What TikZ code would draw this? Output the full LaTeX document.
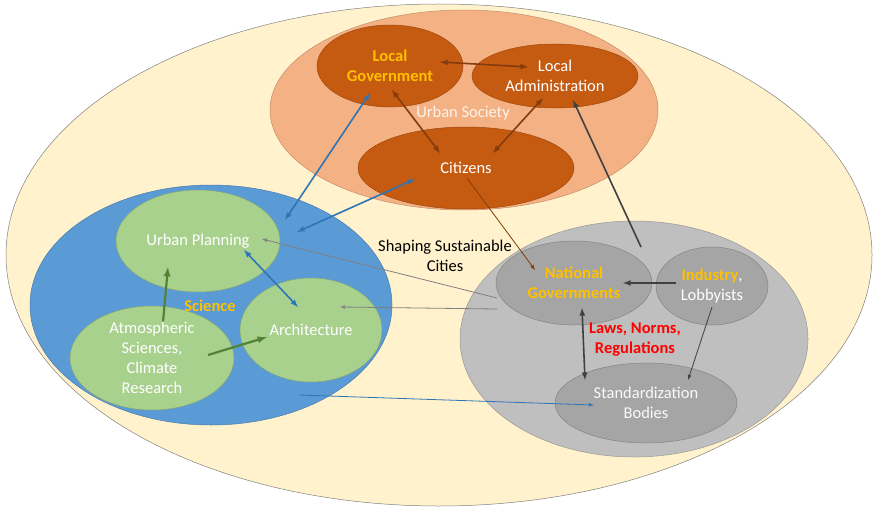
\documentclass[tikz,border=0pt]{standalone}
\usepackage{fontspec}
\setmainfont{Carlito}
\usepackage{xcolor}
\usetikzlibrary{shapes.geometric,calc,arrows}

\definecolor{cream}{HTML}{FFF2CC}
\definecolor{salmon}{HTML}{F4B183}
\definecolor{rust}{HTML}{C55A11}
\definecolor{skyblue}{HTML}{5B9BD5}
\definecolor{leaf}{HTML}{A9D18E}
\definecolor{silver}{HTML}{BFBFBF}
\definecolor{steel}{HTML}{A5A5A5}
\definecolor{gold}{HTML}{FFC000}
\definecolor{darkrust}{HTML}{843C0C}
\definecolor{deepblue}{HTML}{2E75B6}
\definecolor{moss}{HTML}{548235}
\definecolor{slate}{HTML}{404040}

\begin{document}
\begin{tikzpicture}[
    x=1pt, y=-1pt,
    zone/.style={ellipse, inner sep=0pt, fill=#1, draw=#1!80!black, line width=0.5pt},
    lbl/.style={align=center, text=white, font=\fontsize{16.5}{20}\selectfont},
    key/.style={lbl, text=gold, font=\fontsize{16.5}{20}\selectfont\bfseries},
    link/.style={draw=#1, line width=1.6pt},
    thin link/.style={draw=#1, line width=0.8pt},
    >=latex
]
  \useasboundingbox (0,0) rectangle (874,508);

  % outer frame
  \node[zone=cream, draw=gray, minimum width=866pt, minimum height=502pt] (world) at (439,255) {};

  % urban society
  \node[zone=salmon, minimum width=388pt, minimum height=200pt] (us) at (464,110) {};
  \node[zone=rust, minimum width=146pt, minimum height=82pt] (lg) at (390,66) {};
  \node[zone=rust, minimum width=166pt, minimum height=64pt] (la) at (555,76) {};
  \node[zone=rust, minimum width=216pt, minimum height=82pt] (cit) at (466,168) {};

  % science
  \node[zone=skyblue, minimum width=362pt, minimum height=240pt] (sci) at (211,305) {};
  \node[zone=leaf, minimum width=164pt, minimum height=102pt] (up) at (198,241) {};
  \node[zone=leaf, minimum width=164pt, minimum height=104pt] (atm) at (152,358) {};
  \node[zone=leaf, minimum width=142pt, minimum height=104pt] (arch) at (311,330) {};

  % politics and industry
  \node[zone=silver, minimum width=348pt, minimum height=236pt] (pol) at (634,339) {};
  \node[zone=steel, minimum width=156pt, minimum height=84pt] (ng) at (574,283) {};
  \node[zone=steel, minimum width=112pt, minimum height=78pt] (ind) at (712,286) {};
  \node[zone=steel, minimum width=182pt, minimum height=80pt] (sb) at (646,403) {};

  % links inside urban society
  \draw[<->, link=darkrust] ($(lg)+(50,-4)$) -- ($(la)+(-27,-9)$);
  \draw[<->, link=darkrust] ($(lg)+(2,24)$) -- ($(cit)+(-26,-15)$);
  \draw[<->, link=darkrust] ($(la)+(-12,22)$) -- ($(cit)+(27,-15)$);

  % links between urban society and science
  \draw[<->, link=deepblue] ($(lg)+(-20,27)$) -- ($(sci)+(74,-85)$);
  \draw[<->, link=deepblue] ($(cit)+(-51,11)$) -- ($(sci)+(86,-73)$);
  \draw[->, thin link=darkrust] ($(cit)+(1,10)$) -- ($(ng)+(-39,-13)$);
  \draw[->, link=slate] ($(pol)+(7,-92)$) -- ($(la)+(18,24)$);

  % links from politics to science
  \draw[->, thin link=gray] ($(pol)+(-137,-41)$) -- ($(up)+(64,-2)$);
  \draw[->, thin link=gray] ($(pol)+(-137,-30)$) -- ($(arch)+(29,-23)$);
  \draw[->, thin link=deepblue] ($(sci)+(88,90)$) -- ($(sb)+(-52,2)$);

  % links inside politics
  \draw[->, link=slate] ($(ind)+(-36,-3)$) -- ($(ng)+(49,0)$);
  \draw[<->, link=slate] ($(ng)+(8,25)$) -- ($(sb)+(-61,-23)$);
  \draw[->, thin link=slate] ($(ind)+(0,21)$) -- ($(sb)+(42,-23)$);

  % links inside science
  \draw[<->, link=deepblue] ($(up)+(46,9)$) -- ($(arch)+(-13,-23)$);
  \draw[->, link=moss, line width=2.2pt] ($(atm)+(11,-36)$) -- ($(up)+(-30,26)$);
  \draw[->, link=moss, line width=2.2pt] ($(atm)+(56,-3)$) -- ($(arch)+(-44,7)$);

  % labels
  \node[key] (lg-t) at (lg) {Local\\Government};
  \node[lbl] (la-t) at (la) {Local\\Administration};
  \node[lbl] (cit-t) at (cit) {Citizens};
  \node[lbl, text=white!85!salmon] (us-t) at (463,113) {Urban Society};
  \node[lbl] (up-t) at (up) {Urban Planning};
  \node[lbl] (atm-t) at (atm) {Atmospheric\\Sciences,\\Climate\\Research};
  \node[lbl] (arch-t) at (arch) {Architecture};
  \node[key] (sci-t) at (210,306) {Science};
  \node[key] (ng-t) at (ng) {National\\Governments};
  \node[lbl] (ind-t) at (ind) {\textcolor{gold}{\bfseries Industry},\\Lobbyists};
  \node[lbl, text=white!95!gray] (sb-t) at (sb) {Standardization\\Bodies};
  \node[key, text=red] (law-t) at (635,340) {Laws, Norms,\\Regulations};
  \node[lbl, text=black] (city-t) at (445,256) {Shaping Sustainable\\Cities};

\end{tikzpicture}
\end{document}
